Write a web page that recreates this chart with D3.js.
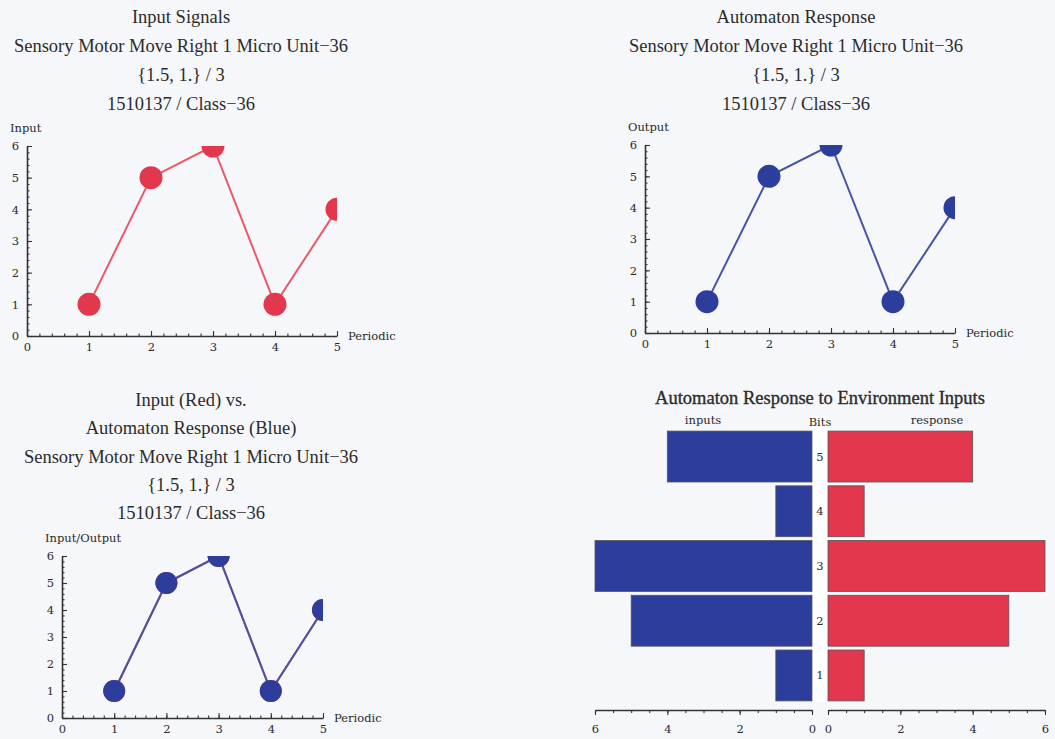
<!DOCTYPE html>
<html>
<head>
<meta charset="utf-8">
<script src="https://cdn.jsdelivr.net/npm/d3@7"></script>
<style>
  html, body { margin: 0; padding: 0; background: #f6f7fb; }
  svg { display: block; }
  text { font-family: "Liberation Serif", "Times New Roman", serif; fill: #2b2b2b; }
  .tick text, .small { font-family: "DejaVu Serif", serif; font-size: 11.5px; fill: #2a2a2a; }
  .domain { stroke: #333; stroke-width: 1.6; }
  .tick line { stroke: #333; stroke-width: 1.1; }
</style>
</head>
<body>
<svg id="chart" width="1055" height="739"></svg>
<script>
// ---- data ----
const periods = [1, 2, 3, 4, 5];
const inputSignal = [1, 5, 6, 1, 4];
const automatonResponse = [1, 5, 6, 1, 4];
const bits = [1, 2, 3, 4, 5];
const inputTotals = [1, 5, 6, 1, 4];
const responseTotals = [1, 5, 6, 1, 4];
const periodTicks = [0, 1, 2, 3, 4, 5];
const levelTicks = [0, 1, 2, 3, 4, 5, 6];
const countTicks = [0, 2, 4, 6];
const runLines = ["Sensory Motor Move Right 1 Micro Unit\u221236", "{1.5, 1.} / 3", "1510137 / Class\u221236"];

const RED = "#e2374d", RED_LINE = "#ec5866";
const BLUE = "#2d3d9b", BLUE_LINE = "#4654a6";

const svg = d3.select("#chart");

function titleBlock(cx, firstBaseline, step, lines, size) {
  svg.append("g").selectAll("text").data(lines).join("text")
    .attr("x", cx).attr("y", (d, i) => firstBaseline + i * step)
    .attr("text-anchor", "middle").attr("font-size", size)
    .text(d => d);
}

let clipId = 0;
function linePlot(o) {
  const x = d3.scaleLinear([0, 5], [o.left, o.right]);
  const y = d3.scaleLinear([0, 6], [o.bottom, o.top]);
  const g = svg.append("g");

  // minor ticks
  g.append("g").attr("transform", `translate(0,${o.bottom})`)
    .call(d3.axisBottom(x).tickValues(x.ticks(25)).tickSize(-2.5).tickSizeOuter(0).tickFormat(""))
    .call(s => s.select(".domain").remove());
  g.append("g").attr("transform", `translate(${o.left},0)`)
    .call(d3.axisLeft(y).tickValues(y.ticks(30)).tickSize(-2.5).tickSizeOuter(0).tickFormat(""))
    .call(s => s.select(".domain").remove());

  // major ticks + axis lines
  g.append("g").attr("transform", `translate(0,${o.bottom})`)
    .call(d3.axisBottom(x).tickValues(periodTicks).tickSize(-5).tickSizeOuter(0).tickPadding(7).tickFormat(d3.format("d")));
  g.append("g").attr("transform", `translate(${o.left},0)`)
    .call(d3.axisLeft(y).tickValues(levelTicks).tickSize(-5).tickSizeOuter(0).tickPadding(8).tickFormat(d3.format("d")));

  g.append("text").attr("class", "small").attr("x", o.right + 11).attr("y", o.bottom + 4).text("Periodic");
  g.append("text").attr("class", "small").attr("x", o.left - 17).attr("y", o.top - 14).text(o.yLabel);

  const id = "plotclip" + (clipId++);
  svg.append("clipPath").attr("id", id).append("rect")
    .attr("x", o.left).attr("y", o.top).attr("width", o.right - o.left).attr("height", o.bottom - o.top);
  const marks = g.append("g").attr("clip-path", `url(#${id})`);
  const line = d3.line().x((d, i) => x(periods[i])).y(d => y(d));
  o.series.forEach(s => {
    marks.append("path").datum(s.values).attr("d", line)
      .attr("fill", "none").attr("stroke", s.lineColor).attr("stroke-width", 2);
    marks.append("g").selectAll("circle").data(s.values).join("circle")
      .attr("cx", (d, i) => x(periods[i])).attr("cy", d => y(d)).attr("r", o.r)
      .attr("fill", s.color);
  });
}

// ---- top-left: input signals ----
titleBlock(181, 23, 29, ["Input Signals", ...runLines], 18.5);
linePlot({ left: 27, right: 337, top: 146, bottom: 336, yLabel: "Input", r: 11.5,
  series: [{ values: inputSignal, color: RED, lineColor: RED_LINE }] });

// ---- top-right: automaton response ----
titleBlock(796, 23, 29, ["Automaton Response", ...runLines], 18.5);
linePlot({ left: 645, right: 955, top: 145, bottom: 333, yLabel: "Output", r: 11.5,
  series: [{ values: automatonResponse, color: BLUE, lineColor: BLUE_LINE }] });

// ---- bottom-left: input vs response ----
titleBlock(191, 406, 28.3, ["Input (Red) vs.", "Automaton Response (Blue)", ...runLines], 18.5);
linePlot({ left: 62, right: 323, top: 556, bottom: 718, yLabel: "Input/Output", r: 11,
  series: [
    { values: inputSignal, color: RED, lineColor: RED_LINE },
    { values: automatonResponse, color: BLUE, lineColor: BLUE_LINE }
  ] });

// ---- bottom-right: paired bar chart ----
(function () {
  const xL = d3.scaleLinear([0, 6], [812, 595]);
  const xR = d3.scaleLinear([0, 6], [828, 1045]);
  const y = d3.scaleBand(bits.slice().reverse(), [430, 702]).paddingInner(0.07).paddingOuter(0.02);
  const g = svg.append("g");

  svg.append("text").attr("x", 820).attr("y", 404).attr("text-anchor", "middle")
    .attr("font-size", 18.5).attr("stroke", "#2b2b2b").attr("stroke-width", 0.35)
    .text("Automaton Response to Environment Inputs");

  g.append("rect").attr("x", xL(0)).attr("y", 416).attr("width", xR(0) - xL(0)).attr("height", 286)
    .attr("fill", "#ffffff");

  g.append("g").selectAll("rect").data(bits).join("rect")
    .attr("x", (d, i) => xL(inputTotals[i])).attr("y", d => y(d))
    .attr("width", (d, i) => xL(0) - xL(inputTotals[i])).attr("height", y.bandwidth())
    .attr("fill", BLUE).attr("stroke", "#555").attr("stroke-width", 0.8);
  g.append("g").selectAll("rect").data(bits).join("rect")
    .attr("x", xR(0)).attr("y", d => y(d))
    .attr("width", (d, i) => xR(responseTotals[i]) - xR(0)).attr("height", y.bandwidth())
    .attr("fill", RED).attr("stroke", "#555").attr("stroke-width", 0.8);

  g.append("g").selectAll("text").data(bits).join("text").attr("class", "small")
    .attr("x", 820).attr("y", d => y(d) + y.bandwidth() / 2 + 4).attr("text-anchor", "middle")
    .text(d => d);

  g.append("text").attr("class", "small").attr("x", 703).attr("y", 424).attr("text-anchor", "middle").text("inputs");
  g.append("text").attr("class", "small").attr("x", 820).attr("y", 426).attr("text-anchor", "middle").text("Bits");
  g.append("text").attr("class", "small").attr("x", 937).attr("y", 424).attr("text-anchor", "middle").text("response");

  const axisY = 710;
  [xL, xR].forEach(sc => {
    g.append("g").attr("transform", `translate(0,${axisY})`)
      .call(d3.axisBottom(sc).tickValues(sc.ticks(12)).tickSize(3).tickSizeOuter(0).tickFormat(""))
      .call(s => s.select(".domain").remove());
    g.append("g").attr("transform", `translate(0,${axisY})`)
      .call(d3.axisBottom(sc).tickValues(countTicks).tickSize(5).tickSizeOuter(0).tickPadding(10).tickFormat(d3.format("d")));
  });
})();
</script>
</body>
</html>
